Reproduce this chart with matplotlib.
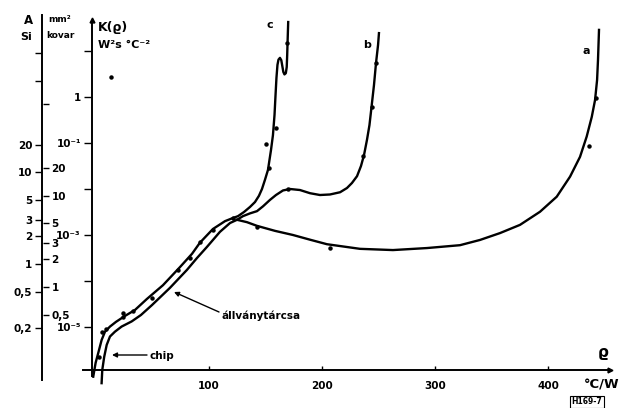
import numpy as np
import matplotlib.pyplot as plt
from matplotlib.ticker import NullLocator

plt.rcParams['font.family'] = 'DejaVu Sans'
plt.rcParams['font.weight'] = 'bold'

# lower bundle, left line (chip) - x in °C/W, K in W^2 s °C^-2
chip_x = [-2.4, -0.3, 2.0, 5.0, 8.0, 12.4, 17.7, 25.7, 34.5, 45.1, 59.3, 74.3, 85.0,
          92.0, 103.5, 114.2, 120.4, 125.7]
chip_k = [8.3e-7, 1.66e-6, 2.7e-6, 5.2e-6, 7.9e-6, 1.02e-5, 1.29e-5, 1.74e-5, 2.34e-5,
          4.07e-5, 8.1e-5, 2.0e-4, 3.9e-4, 6.8e-4, 1.35e-3, 2.0e-3, 2.3e-3, 2.57e-3]

# lower bundle, right line (állványtárcsa)
tarcsa_x = [5.0, 5.6, 7.3, 9.5, 12.4, 16.8, 22.7, 31.6, 39.8, 49.6, 65.5, 80.5, 89.4,
            98.2, 109.7, 118.6, 124.8]
tarcsa_k = [6.0e-7, 1.17e-6, 2.24e-6, 4.07e-6, 6.2e-6, 7.9e-6, 1.02e-5, 1.32e-5, 1.82e-5,
            3.0e-5, 7.1e-5, 1.74e-4, 3.16e-4, 5.5e-4, 1.17e-3, 1.82e-3, 2.14e-3]

# branch c (with the hook near the top)
c_x = [131.0, 136.3, 140.7, 144.2, 146.9, 149.6, 152.2, 154.9, 156.6, 158.0, 158.8,
       159.7, 160.6, 161.5, 162.8, 164.0, 164.9, 165.8, 166.8, 168.0, 168.8, 169.2,
       169.6, 170.1]
c_k = [3.16e-3, 4.07e-3, 5.2e-3, 7.1e-3, 1.0e-2, 1.6e-2, 2.6e-2, 7.1e-2, 0.148, 0.41,
       1.0, 2.6, 5.0, 6.5, 7.1, 6.3, 4.7, 3.5, 3.1, 3.3, 4.5, 8.1, 17.4, 42.7]

# branch b
b_x = [130.1, 136.3, 142.5, 147.8, 154.0, 159.3, 165.5, 171.7, 180.5, 189.4, 198.2,
       207.1, 216.0, 222.1, 226.5, 231.0, 234.5, 237.2, 239.8, 242.0, 243.8, 246.0,
       247.8, 249.6, 250.4]
b_k = [2.57e-3, 2.95e-3, 3.3e-3, 4.2e-3, 5.8e-3, 7.4e-3, 9.3e-3, 1.0e-2, 9.5e-3, 8.1e-3,
       7.4e-3, 7.6e-3, 8.5e-3, 1.05e-2, 1.35e-2, 1.9e-2, 3.16e-2, 5.5e-2, 0.117, 0.245,
       0.60, 1.82, 5.5, 13.5, 24.5]

# branch a
a_x = [133.6, 142.5, 158.4, 174.3, 189.4, 204.4, 233.6, 262.8, 292.9, 322.1, 339.8,
       357.5, 375.2, 392.9, 407.7, 419.5, 428.3, 434.2, 438.7, 441.6, 443.4, 444.2,
       445.1]
a_k = [1.9e-3, 1.58e-3, 1.23e-3, 1.0e-3, 7.9e-4, 6.3e-4, 5.0e-4, 4.7e-4, 5.2e-4, 6.0e-4,
       7.8e-4, 1.1e-3, 1.66e-3, 3.2e-3, 6.8e-3, 1.86e-2, 5.0e-2, 0.138, 0.37, 0.86,
       2.34, 6.3, 28.8]

# measured points
dot_x = [13.3, 150.4, 436.3, 207.1, 159.3, 153.1, 169.0, 244.2, 247.8, 236.3, 442.5,
         169.9, 142.5, 121.2, 103.5, 92.0, 83.2, 72.6, 49.6, 32.7, 23.9, 23.9, 8.8,
         5.3, 2.4]
dot_k = [2.7, 9.5e-2, 8.5e-2, 5.2e-4, 0.21, 2.9e-2, 14.8, 0.60, 5.5, 5.2e-2, 0.95,
         1.0e-2, 1.48e-3, 2.3e-3, 1.3e-3, 7.1e-4, 3.2e-4, 1.74e-4, 4.3e-5, 2.2e-5,
         2.0e-5, 1.66e-5, 9.1e-6, 7.8e-6, 2.2e-6]

x_ticks = [100, 200, 300, 400]
k_ticks = [1e1, 1, 1e-1, 1e-2, 1e-3, 1e-4, 1e-5]
k_labels = ['', '1', '10⁻¹', '', '10⁻³', '', '10⁻⁵']

si_ticks = [0.2, 0.5, 1, 2, 3, 5, 10, 20, 100, 200]
si_labels = ['0,2', '0,5', '1', '2', '3', '5', '10', '20', '', '']
kov_ticks = [0.5, 1, 2, 3, 5, 10, 20, 100]
kov_labels = ['0,5', '1', '2', '3', '5', '10', '20', '']

W, H = 625, 408


def fpx(x, y):
    return x / W, 1 - y / H


fig = plt.figure(figsize=(6.25, 4.08), dpi=100)
ax = fig.add_axes([92 / W, 38 / H, 520 / W, 355 / H])
ax.set_yscale('log')
ax.set_xlim(-3.5, 456.6)
ax.set_ylim(1.16e-6, 60.7)
ax.patch.set_visible(False)
for s in ax.spines.values():
    s.set_visible(False)

# axis lines with arrows
ax.plot([0, 0], [-0.017, 0.98], transform=ax.transAxes, color='k', lw=1.4, clip_on=False)
ax.plot([-0.017, 0.995], [0, 0], transform=ax.transAxes, color='k', lw=1.4, clip_on=False)
ax.plot(0, 0.985, marker='^', ms=3.5, color='k', transform=ax.transAxes, clip_on=False)
ax.plot(0.997, 0, marker='>', ms=3.5, color='k', transform=ax.transAxes, clip_on=False)

ax.set_xticks(x_ticks)
ax.set_xticklabels([str(v) for v in x_ticks])
ax.tick_params(axis='x', direction='in', length=3, width=1, pad=8, labelsize=7.5)
ax.set_yticks(k_ticks)
ax.set_yticklabels(k_labels)
ax.yaxis.set_minor_locator(NullLocator())
ax.tick_params(axis='y', direction='out', length=6, width=1, pad=2, labelsize=7.5)

# curves
lw = 1.7
ax.plot(chip_x + c_x, chip_k + c_k, color='k', lw=lw, clip_on=False,
        solid_joinstyle='round')
ax.plot(tarcsa_x + b_x, tarcsa_k + b_k, color='k', lw=lw, clip_on=False,
        solid_joinstyle='round')
ax.plot(tarcsa_x[-1:] + a_x, tarcsa_k[-1:] + a_k, color='k', lw=lw, clip_on=False,
        solid_joinstyle='round')
ax.plot(dot_x, dot_k, 'o', ms=2.2, color='k', clip_on=False)

# Si / kovar area scales on the far left
rect = [42 / W, 28 / H, 0.002, 365 / H]
ax_si = fig.add_axes(rect)
ax_si.set_yscale('log')
ax_si.set_ylim(0.054, 526)
ax_si.patch.set_visible(False)
for k, s in ax_si.spines.items():
    s.set_visible(k == 'left')
ax_si.spines['left'].set_linewidth(1.4)
ax_si.set_xticks([])
ax_si.set_yticks(si_ticks)
ax_si.set_yticklabels(si_labels)
ax_si.yaxis.set_minor_locator(NullLocator())
ax_si.tick_params(axis='y', direction='out', length=5, width=1, pad=2, labelsize=7.5)

ax_kov = fig.add_axes(rect)
ax_kov.set_yscale('log')
ax_kov.set_ylim(0.0963, 939)
ax_kov.patch.set_visible(False)
for s in ax_kov.spines.values():
    s.set_visible(False)
ax_kov.set_xticks([])
ax_kov.yaxis.tick_right()
ax_kov.set_yticks(kov_ticks)
ax_kov.set_yticklabels(kov_labels)
ax_kov.yaxis.set_minor_locator(NullLocator())
ax_kov.tick_params(axis='y', direction='out', length=4, width=1, pad=2, labelsize=7.5)

# texts
fig.text(*fpx(28, 20), 'A', fontsize=8.5, ha='center', va='center')
fig.text(*fpx(20, 37), 'Si', fontsize=8, ha='left', va='center')
fig.text(*fpx(48, 20), 'mm²', fontsize=6.5, ha='left', va='center')
fig.text(*fpx(46, 36), 'kovar', fontsize=6.5, ha='left', va='center')
fig.text(*fpx(98, 28), 'K(ϱ)', fontsize=9, ha='left', va='center')
fig.text(*fpx(98, 45), 'W²s °C⁻²', fontsize=8, ha='left', va='center')
fig.text(*fpx(270, 25), 'c', fontsize=8, ha='center', va='center')
fig.text(*fpx(367, 45), 'b', fontsize=8, ha='center', va='center')
fig.text(*fpx(586, 51), 'a', fontsize=8, ha='center', va='center')
fig.text(*fpx(603, 352), 'ϱ', fontsize=11, ha='center', va='center')
fig.text(*fpx(602, 385), '°C/W', fontsize=9.5, ha='center', va='center')
fig.text(*fpx(587, 402), 'H169-7', fontsize=5.5, ha='center', va='center',
         bbox=dict(boxstyle='square,pad=0.15', fc='white', ec='k', lw=0.8))

arrow = dict(arrowstyle='-|>', color='k', lw=1.0, mutation_scale=7, shrinkA=0, shrinkB=0)
fig.text(*fpx(150, 356), 'chip', fontsize=7.5, ha='left', va='center')
ax.annotate('', xy=fpx(112, 355), xycoords='figure fraction',
            xytext=fpx(147, 355), textcoords='figure fraction', arrowprops=arrow)
fig.text(*fpx(222, 316), 'állványtárcsa', fontsize=7.5, ha='left', va='center')
ax.annotate('', xy=fpx(174, 292), xycoords='figure fraction',
            xytext=fpx(219, 312), textcoords='figure fraction', arrowprops=arrow)

fig.savefig('out.png', dpi=100)
